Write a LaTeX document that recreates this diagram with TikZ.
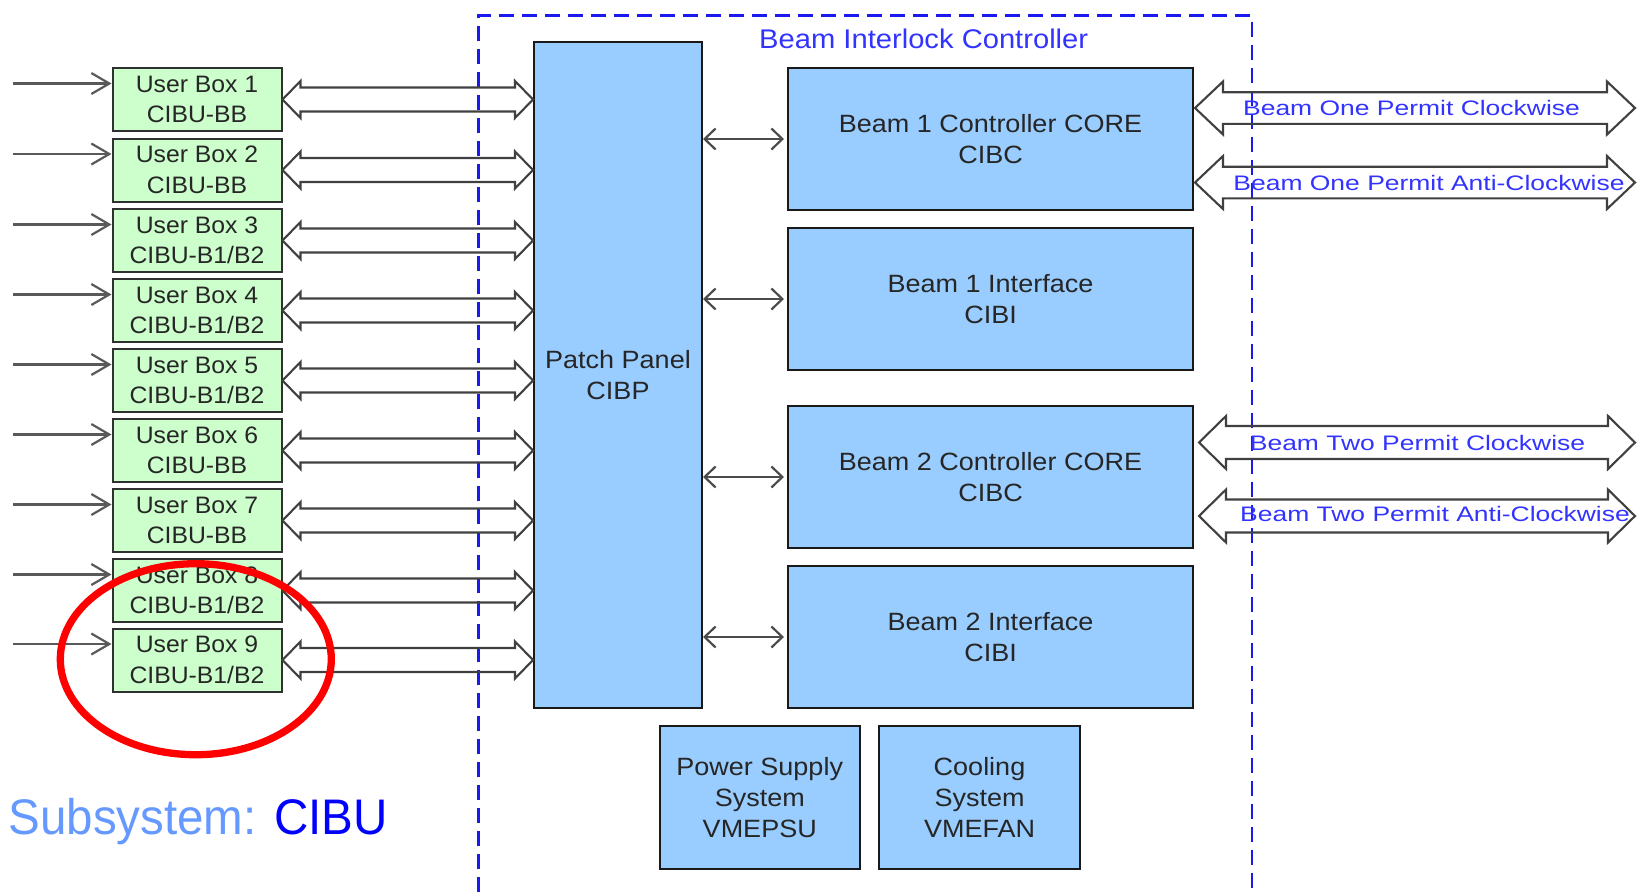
\documentclass[tikz,border=0pt]{standalone}
\usepackage{fontspec}
\setmainfont{Liberation Sans}
\newfontfamily\dfont[FakeStretch=1.08]{Liberation Sans}
\newfontfamily\ufont[FakeStretch=1.04]{Liberation Sans}
\newfontfamily\lfont[FakeStretch=1.26]{Liberation Sans}
\newfontfamily\sfont[FakeStretch=0.95]{Liberation Sans}
\usetikzlibrary{arrows.meta,calc}
\definecolor{ubfill}{HTML}{CCFFCC}
\definecolor{bfill}{HTML}{99CCFF}
\definecolor{framecol}{HTML}{1A1AF0}
\definecolor{tblue}{HTML}{3333FF}
\definecolor{lblue}{HTML}{6699FF}
\definecolor{cblue}{HTML}{0000FF}
\definecolor{txt}{HTML}{262626}
\definecolor{edge}{HTML}{303030}
\newcommand{\hdarrow}[5]{%
  \draw[hollow] (#1) -- ++(#5,-#4) -- ++(0,#4-#3) -- ($(#2)+(-#5,-#3)$) -- ++(0,#3-#4)
    -- (#2) -- ++(-#5,#4) -- ++(0,#3-#4) -- ($(#1)+(#5,#3)$) -- ++(0,#4-#3) -- cycle;}
\begin{document}
\begin{tikzpicture}[x=1pt,y=-1pt,
  ubox/.style={anchor=north west, minimum width=169, minimum height=63, inner sep=0,
    draw=edge, line width=2, fill=ubfill, align=center, text=txt,
    font=\ufont\fontsize{23.8}{30.5}\selectfont},
  bbox/.style={anchor=north west, inner sep=0, draw=black!90, line width=2, fill=bfill,
    align=center, text=txt, font=\dfont\fontsize{25}{31}\selectfont},
  hollow/.style={draw=black!75, line width=2.1, line join=miter},
  inarr/.style={draw=black!65, line width=2.2, -{Straight Barb[length=18pt,width=21pt]}},
  smallarr/.style={draw=black!70, line width=2.2,
    {Straight Barb[length=11pt,width=21pt]}-{Straight Barb[length=11pt,width=21pt]}},
  frame/.style={draw=framecol, line width=2.4, dash pattern=on 15pt off 8pt},
  lbl/.style={anchor=base, inner sep=0, text=tblue, font=\lfont\fontsize{21}{25}\selectfont}
]
\useasboundingbox (0,0) rectangle (1637,892);

% dashed frame of the controller
\draw[frame] (478.5,892) -- (478.5,15.5) -- (1252,15.5) -- (1252,892);
\node[anchor=base west, inner sep=0, text=tblue, font=\dfont\fontsize{27}{32}\selectfont]
  (title) at (759,48.3) {Beam Interlock Controller};

% user boxes
\node[ubox] (u1) at (111.5,67)    {User Box 1\\CIBU-BB};
\node[ubox] (u2) at (111.5,137.5) {User Box 2\\CIBU-BB};
\node[ubox] (u3) at (111.5,208)   {User Box 3\\CIBU-B1/B2};
\node[ubox] (u4) at (111.5,278)   {User Box 4\\CIBU-B1/B2};
\node[ubox] (u5) at (111.5,348)   {User Box 5\\CIBU-B1/B2};
\node[ubox] (u6) at (111.5,418)   {User Box 6\\CIBU-BB};
\node[ubox] (u7) at (111.5,488)   {User Box 7\\CIBU-BB};
\node[ubox] (u8) at (111.5,558)   {User Box 8\\CIBU-B1/B2};
\node[ubox] (u9) at (111.5,627.5) {User Box 9\\CIBU-B1/B2};

% patch panel and controller boxes
\node[bbox, minimum width=168, minimum height=666] (pp) at (533,41) {Patch Panel\\CIBP};
\node[bbox, minimum width=405, minimum height=142] (b1c) at (787,67)  {Beam 1 Controller CORE\\CIBC};
\node[bbox, minimum width=405, minimum height=142] (b1i) at (787,227) {Beam 1 Interface\\CIBI};
\node[bbox, minimum width=405, minimum height=142] (b2c) at (787,405) {Beam 2 Controller CORE\\CIBC};
\node[bbox, minimum width=405, minimum height=142] (b2i) at (787,565) {Beam 2 Interface\\CIBI};
\node[bbox, minimum width=200.5, minimum height=143] (psu) at (658.5,725) {Power Supply\\System\\VMEPSU};
\node[bbox, minimum width=201, minimum height=143] (fan) at (878,725) {Cooling\\System\\VMEFAN};

% input arrows and hollow double arrows to the patch panel
\foreach \n in {1,...,9}{
  \coordinate (in\n) at ($(u\n.north west)+(-98.5,16.5)$);
  \draw[inarr] (in\n) -- (u\n.west |- in\n);
  \coordinate (pe\n) at (pp.west |- u\n.east);
  \hdarrow{u\n.east}{pe\n}{12}{18.5}{18}
}

% patch panel to controller boxes
\foreach \b in {b1c,b1i,b2c,b2i}{
  \draw[smallarr] (pp.east |- \b.west) -- ([xshift=-3]\b.west);
}

% permit loop arrows
\coordinate (p1l) at (1195,108);   \coordinate (p1r) at (1635,108);
\coordinate (p2l) at (1195,182.5); \coordinate (p2r) at (1635,182.5);
\coordinate (p3l) at (1199,442.5); \coordinate (p3r) at (1635,442.5);
\coordinate (p4l) at (1199,516);   \coordinate (p4r) at (1635,516);
\hdarrow{p1l}{p1r}{15.8}{26.5}{28}
\hdarrow{p2l}{p2r}{15.8}{26.5}{28}
\hdarrow{p3l}{p3r}{16.5}{26.5}{27}
\hdarrow{p4l}{p4r}{16.5}{26.5}{27}
\node[lbl] (l1) at (1411.5,115.7) {Beam One Permit Clockwise};
\node[lbl] (l2) at (1429,190.7)   {Beam One Permit Anti-Clockwise};
\node[lbl] (l3) at (1417.5,450)   {Beam Two Permit Clockwise};
\node[lbl] (l4) at (1435,521.7)   {Beam Two Permit Anti-Clockwise};

% highlight
\draw[red, line width=7.3] (195.8,659.2) ellipse [x radius=135.5, y radius=95.5];
\node[anchor=base west, inner sep=0, font=\sfont\fontsize{50}{60}\selectfont] (sub) at (8.3,834)
  {\textcolor{lblue}{Subsystem:} \textcolor{cblue}{CIBU}};
\end{tikzpicture}
\end{document}
